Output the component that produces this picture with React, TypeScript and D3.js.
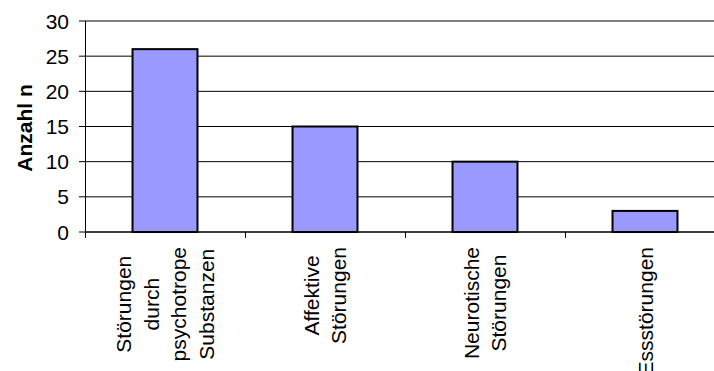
import React, { useEffect, useRef } from "react";
import * as d3 from "d3";

// Diagnosegruppen und Häufigkeiten
const categories: string[][] = [
  ["Störungen", "durch", "psychotrope", "Substanzen"],
  ["Affektive", "Störungen"],
  ["Neurotische", "Störungen"],
  ["Essstörungen"],
];
const counts: number[] = [26, 15, 10, 3];
const yTicks: number[] = [0, 5, 10, 15, 20, 25, 30];
const yTitle = "Anzahl n";

const W = 714;
const H = 371;
const FONT = "'Liberation Sans', Arial, sans-serif";

export default function App() {
  const ref = useRef<SVGSVGElement | null>(null);

  useEffect(() => {
    const svg = d3.select(ref.current);
    svg.selectAll("*").remove();

    const left = 85;
    const right = 725;
    const top = 21;
    const bottom = 232;

    const keys = categories.map((c) => c.join(" "));
    const x = d3
      .scaleBand<string>()
      .domain(keys)
      .range([left, right])
      .paddingInner(0.594)
      .paddingOuter(0.297);
    const y = d3.scaleLinear().domain([0, 30]).range([bottom, top]);
    const step = x.step();

    // Gitterlinien
    svg
      .append("g")
      .selectAll("line")
      .data(yTicks)
      .join("line")
      .attr("x1", left)
      .attr("x2", W)
      .attr("y1", (d) => y(d))
      .attr("y2", (d) => y(d))
      .attr("stroke", "#000")
      .attr("stroke-width", 1);

    // Y-Achse
    svg
      .append("line")
      .attr("x1", left + 0.5)
      .attr("x2", left + 0.5)
      .attr("y1", top)
      .attr("y2", bottom)
      .attr("stroke", "#000");

    svg
      .append("g")
      .selectAll("line")
      .data(yTicks)
      .join("line")
      .attr("x1", left - 6)
      .attr("x2", left)
      .attr("y1", (d) => y(d))
      .attr("y2", (d) => y(d))
      .attr("stroke", "#000");

    svg
      .append("g")
      .selectAll("text")
      .data(yTicks)
      .join("text")
      .attr("x", 69)
      .attr("y", (d) => y(d))
      .attr("dy", "0.36em")
      .attr("text-anchor", "end")
      .attr("font-family", FONT)
      .attr("font-size", 21)
      .attr("fill", "#000")
      .text((d) => String(d));

    // X-Achse mit Teilstrichen an den Kategoriegrenzen
    svg
      .append("line")
      .attr("x1", left)
      .attr("x2", W)
      .attr("y1", bottom)
      .attr("y2", bottom)
      .attr("stroke", "#000");

    const bounds = d3.range(keys.length + 1).map((i) => left + i * step);
    svg
      .append("g")
      .selectAll("line")
      .data(bounds)
      .join("line")
      .attr("x1", (d) => d + 0.5)
      .attr("x2", (d) => d + 0.5)
      .attr("y1", bottom)
      .attr("y2", bottom + 6)
      .attr("stroke", "#000");

    // Balken
    svg
      .append("g")
      .selectAll("rect")
      .data(counts)
      .join("rect")
      .attr("x", (_, i) => x(keys[i])!)
      .attr("width", x.bandwidth())
      .attr("y", (d) => y(d))
      .attr("height", (d) => bottom - y(d))
      .attr("fill", "#9999FF")
      .attr("stroke", "#000")
      .attr("stroke-width", 2);

    // Kategoriebeschriftungen (senkrecht, zentriert)
    const lineGap = 27.5;
    const labelTop = 247;
    categories.forEach((lines, ci) => {
      const cx = x(keys[ci])! + x.bandwidth() / 2;
      const g = svg.append("g");
      const texts = lines.map((t, li) =>
        g
          .append("text")
          .attr("text-anchor", "middle")
          .attr("font-family", FONT)
          .attr("font-size", 21)
          .attr("fill", "#000")
          .text(t)
      );
      const maxW = d3.max(texts, (t) => (t.node() as SVGTextElement).getComputedTextLength()) || 0;
      const cy = labelTop + maxW / 2;
      texts.forEach((t, li) => {
        const lx = cx + (li - (lines.length - 1) / 2) * lineGap;
        t.attr("transform", `translate(${lx},${cy}) rotate(-90)`).attr("dy", "0.36em");
      });
    });

    // Achsentitel
    svg
      .append("text")
      .attr("transform", `translate(24,128) rotate(-90)`)
      .attr("dy", "0.36em")
      .attr("text-anchor", "middle")
      .attr("font-family", FONT)
      .attr("font-size", 21)
      .attr("font-weight", "bold")
      .attr("fill", "#000")
      .text(yTitle);
  }, []);

  return (
    <div style={{ position: "fixed", left: 0, top: 0, width: W, height: H, background: "#fff" }}>
      <svg ref={ref} width={W} height={H} style={{ display: "block" }} />
    </div>
  );
}
